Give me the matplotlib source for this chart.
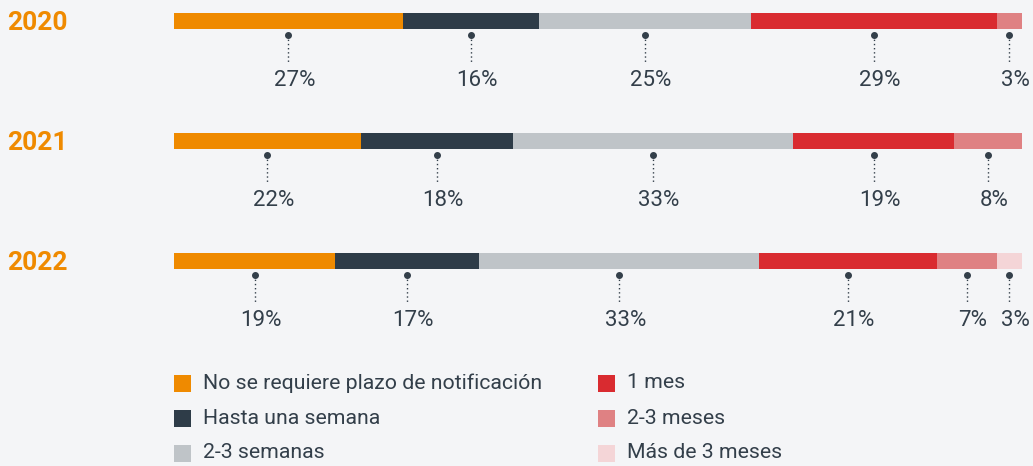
import matplotlib.pyplot as plt
from matplotlib.patches import Rectangle
import numpy as np

# datos
years = ["2020", "2021", "2022"]
categories = ["No se requiere plazo de notificación", "Hasta una semana", "2-3 semanas",
              "1 mes", "2-3 meses", "Más de 3 meses"]
v2020 = [27, 16, 25, 29, 3, 0]
v2021 = [22, 18, 33, 19, 8, 0]
v2022 = [19, 17, 33, 21, 7, 3]
values = [v2020, v2021, v2022]
colors = ["#EF8A00", "#2E3C48", "#BFC4C8", "#D92B30", "#DF8183", "#F4D5D7"]

bg = "#F4F5F7"
txt = "#333F4A"
plt.rcParams['font.family'] = ['Roboto', 'DejaVu Sans']

fig = plt.figure(figsize=(10.33, 4.66), dpi=100)
fig.patch.set_facecolor(bg)
ax = fig.add_axes([0, 0, 1, 1])
ax.set_facecolor(bg)
ax.axis("off")

# eje x en %, eje y en pixeles
px = 8.48  # pixeles por punto porcentual
x0 = 174
ax.set_xlim(-x0 / px, (1033 - x0) / px)
ax.set_ylim(466, 0)

bar_h = 16
for i, (year, vals) in enumerate(zip(years, values)):
    yc = 21 + 120 * i
    bottom = yc + bar_h / 2
    ax.text(-167 / px, yc + 2, year, color=colors[0], fontsize=19, fontweight="bold",
            ha="left", va="center")
    left = 0
    for v, c in zip(vals, colors):
        if v == 0:
            continue
        ax.barh(yc, v, left=left, height=bar_h, color=c, edgecolor="none")
        xm = left + v / 2
        ax.plot([xm, xm], [bottom + 6, bottom + 33], color=txt, lw=1,
                linestyle=(0, (1, 2)))
        ax.plot(xm, bottom + 6, "o", color=txt, markersize=4)
        ax.text(xm + 6 / px, bottom + 51.5, f"{v}%", color=txt, fontsize=16,
                ha="center", va="center")
        left += v

# leyenda
for i, (lab, c) in enumerate(zip(categories, colors)):
    col = i // 3
    row = i % 3
    lx = (174 + 424 * col - x0) / px
    ly = 383 + 35 * row
    ax.add_patch(Rectangle((lx, ly - 8.5), 17 / px, 17, color=c, ec="none"))
    ax.text(lx + 29 / px, ly, lab, color=txt, fontsize=15.3, ha="left", va="center")

plt.savefig("out.png", dpi=100, facecolor=bg)
